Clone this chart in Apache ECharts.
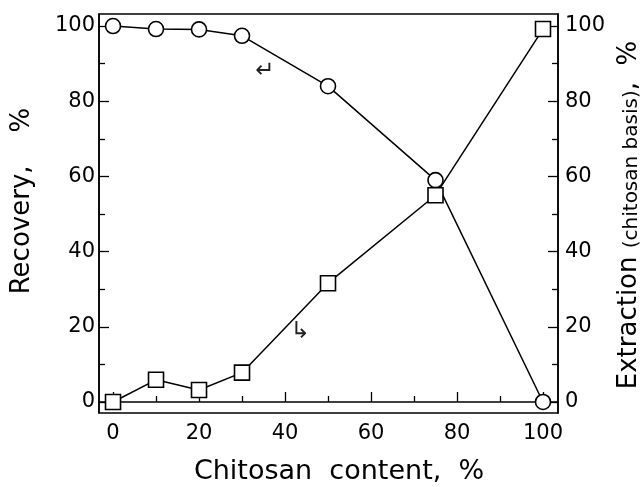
<!DOCTYPE html>
<html>
<head>
<meta charset="utf-8">
<script src="https://cdn.jsdelivr.net/npm/echarts@6/dist/echarts.min.js"></script>
<style>
  html, body { margin: 0; padding: 0; background: #fff; }
  #chart { width: 644px; height: 487px; }
</style>
</head>
<body>
<div id="chart"></div>
<script>
// chitosan content (%) on x
var chitosanContent = [0, 10, 20, 30, 50, 75, 100];
// recovery, % (circles, left axis)
var recovery = [100, 99.2, 99.1, 97.4, 84.0, 59.0, 0];
// extraction (chitosan basis), % (squares, right axis)
var extraction = [0, 5.9, 3.2, 7.8, 31.6, 55.0, 99.2];

var majorTicks = [0, 20, 40, 60, 80, 100];
var minorTicks = [10, 30, 50, 70, 90];

var FONT = 'DejaVu Sans';

function pairs(xs, ys) {
    var out = [];
    for (var i = 0; i < xs.length; i++) {
        out.push([xs[i], ys[i]]);
    }
    return out;
}

var chart = echarts.init(document.getElementById('chart'), null, { renderer: 'canvas' });

var xMin = -3.26, xMax = 103.49;
var yMin = -2.93, yMax = 103.2;

function xAxisDef(ticks, len, labels) {
    return {
        type: 'value', min: xMin, max: xMax, position: 'bottom',
        axisLine: { show: labels, lineStyle: { color: '#000', width: 1.5 } },
        axisTick: { show: true, inside: true, length: len, customValues: ticks, lineStyle: { color: '#000', width: 1.3 } },
        axisLabel: { show: labels, customValues: ticks, margin: 10, color: '#000', fontFamily: FONT, fontSize: 21 },
        splitLine: { show: false }
    };
}
function yAxisDef(pos, ticks, len, labels, margin) {
    return {
        type: 'value', min: yMin, max: yMax, position: pos,
        axisLine: { show: labels, onZero: false, lineStyle: { color: '#000', width: 1.5 } },
        axisTick: { show: true, inside: true, length: len, customValues: ticks, lineStyle: { color: '#000', width: 1.3 } },
        axisLabel: { show: labels, customValues: ticks, margin: margin, color: '#000', fontFamily: FONT, fontSize: 21 },
        splitLine: { show: false }
    };
}

var option = {
    backgroundColor: '#fff',
    animation: false,
    grid: {
        left: 99, top: 14, width: 459, height: 399,
        show: true, borderColor: '#000', borderWidth: 1.5, backgroundColor: 'transparent'
    },
    xAxis: [
        xAxisDef(majorTicks, 10, true),
        xAxisDef(minorTicks, 6, false)
    ],
    yAxis: [
        yAxisDef('left', majorTicks, 10, true, 4),
        yAxisDef('right', majorTicks, 10, true, 7),
        yAxisDef('left', minorTicks, 6, false, 4),
        yAxisDef('right', minorTicks, 6, false, 7)
    ],
    series: [
        {
            name: 'Recovery',
            type: 'line',
            xAxisIndex: 0, yAxisIndex: 0,
            data: pairs(chitosanContent, recovery),
            symbol: 'circle', symbolSize: 15,
            itemStyle: { color: '#fff', borderColor: '#000', borderWidth: 1.6 },
            lineStyle: { color: '#000', width: 1.5 },
            z: 3,
            markPoint: {
                symbol: 'circle', symbolSize: 1,
                itemStyle: { color: 'transparent' },
                label: { show: true, position: 'inside', formatter: '\u21B5', color: '#222', fontFamily: FONT, fontSize: 23 },
                data: [{ coord: [35.3, 88.0] }]
            }
        },
        {
            name: 'Extraction',
            type: 'line',
            xAxisIndex: 0, yAxisIndex: 1,
            data: pairs(chitosanContent, extraction),
            symbol: 'rect', symbolSize: 15,
            itemStyle: { color: '#fff', borderColor: '#000', borderWidth: 1.6 },
            lineStyle: { color: '#000', width: 1.5 },
            z: 4,
            markPoint: {
                symbol: 'circle', symbolSize: 1,
                itemStyle: { color: 'transparent' },
                label: { show: true, position: 'inside', formatter: '\u21B3', color: '#222', fontFamily: FONT, fontSize: 23 },
                data: [{ coord: [43.5, 18.5] }]
            }
        }
    ],
    graphic: [
        {
            type: 'text', x: 339, y: 472,
            style: { text: 'Chitosan  content,  %', fill: '#000', font: '27px "DejaVu Sans"', textAlign: 'center', textVerticalAlign: 'middle' }
        },
        {
            type: 'text', x: 22, y: 201, rotation: Math.PI / 2,
            style: { text: 'Recovery,    %', fill: '#000', font: '26px "DejaVu Sans"', textAlign: 'center', textVerticalAlign: 'middle' }
        },
        {
            type: 'text', x: 627, y: 215, rotation: Math.PI / 2,
            style: {
                text: '{a|Extraction }{b|(chitosan basis)}{a|,  %}',
                textAlign: 'center', textVerticalAlign: 'middle',
                rich: {
                    a: { fontFamily: FONT, fontSize: 26, fill: '#000', verticalAlign: 'bottom', lineHeight: 30 },
                    b: { fontFamily: FONT, fontSize: 20, fill: '#000', verticalAlign: 'bottom', lineHeight: 27 }
                }
            }
        }
    ]
};

chart.setOption(option);
</script>
</body>
</html>
